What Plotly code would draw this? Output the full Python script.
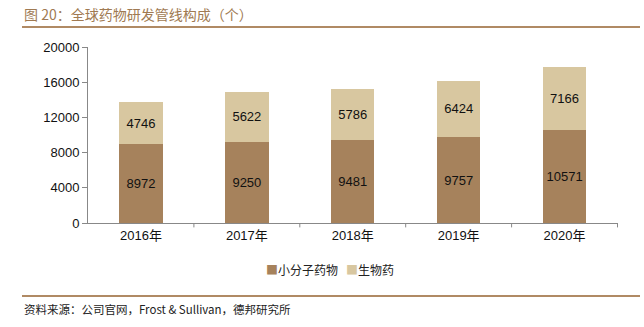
import plotly.graph_objects as go

years = ["2016年", "2017年", "2018年", "2019年", "2020年"]
small_molecule = [8972, 9250, 9481, 9757, 10571]
biologics = [4746, 5622, 5786, 6424, 7166]
y_ticks = [0, 4000, 8000, 12000, 16000, 20000]
series_names = ["小分子药物", "生物药"]
colors = ["#A6825C", "#D8C7A0"]

W, H = 644, 327
L, R, T, B = 88, 26, 47, 104

fig = go.Figure()
for name, vals, col in zip(series_names, [small_molecule, biologics], colors):
    fig.add_trace(go.Bar(
        x=years, y=vals, name=name, showlegend=False,
        marker=dict(color=col, line=dict(width=0)),
        text=vals, textposition="inside", insidetextanchor="middle",
        textfont=dict(color="#111111", size=13, family="Liberation Sans, Arial"),
    ))

fig.update_layout(
    width=W, height=H,
    margin=dict(l=L, r=R, t=T, b=B),
    barmode="stack", bargap=0.59,
    plot_bgcolor="white", paper_bgcolor="white",
    font=dict(family="Liberation Sans, Arial", size=13, color="#111111"),
    uniformtext=dict(mode="show", minsize=12),
    xaxis=dict(showline=True, linecolor="#888888", linewidth=1, ticks="",
               tickfont=dict(size=13, family="Liberation Sans, Noto Sans CJK SC"),
               fixedrange=True),
    yaxis=dict(range=[0, 20000], tickvals=y_ticks, ticktext=[str(v) for v in y_ticks],
               showgrid=False, zeroline=False,
               showline=True, linecolor="#888888", linewidth=1,
               ticks="outside", ticklen=5, tickcolor="#888888",
               tickfont=dict(size=13), fixedrange=True),
)

for i in range(1, len(years) + 1):
    fig.add_shape(type="line", xref="x", yref="paper", x0=i - 0.5, x1=i - 0.5,
                  y0=0, y1=-0.025, line=dict(color="#888888", width=1))

def py(px):
    return (H - B - px) / (H - T - B)

def pxx(px):
    return (px - L) / (W - L - R)

legend_text = "&nbsp;&nbsp;&nbsp;".join(
    f"<span style='color:{c}'>■</span>{n}" for n, c in zip(series_names, colors))
fig.add_annotation(text=legend_text, xref="paper", yref="paper",
                   x=pxx(330), y=py(269), xanchor="center", yanchor="middle", showarrow=False,
                   font=dict(family="Noto Sans CJK SC", size=12, color="#222222"))

fig.add_annotation(text="图 20：全球药物研发管线构成（个）", xref="paper", yref="paper",
                   x=pxx(22), y=py(14), xanchor="left", yanchor="middle", showarrow=False,
                   font=dict(family="Noto Sans CJK SC", size=14, color="#A07A52"))
fig.add_shape(type="line", xref="paper", yref="paper", x0=pxx(22), x1=pxx(640),
              y0=py(27), y1=py(27), line=dict(color="#B08A64", width=2))
fig.add_shape(type="line", xref="paper", yref="paper", x0=pxx(22), x1=pxx(640),
              y0=py(296), y1=py(296), line=dict(color="#B08A64", width=2))
fig.add_annotation(text="资料来源：公司官网，Frost & Sullivan，德邦研究所", xref="paper", yref="paper",
                   x=pxx(22), y=py(309), xanchor="left", yanchor="middle", showarrow=False,
                   font=dict(family="Noto Sans CJK SC, Liberation Sans", size=11.5, color="#222222"))

fig.write_html("out.html")
